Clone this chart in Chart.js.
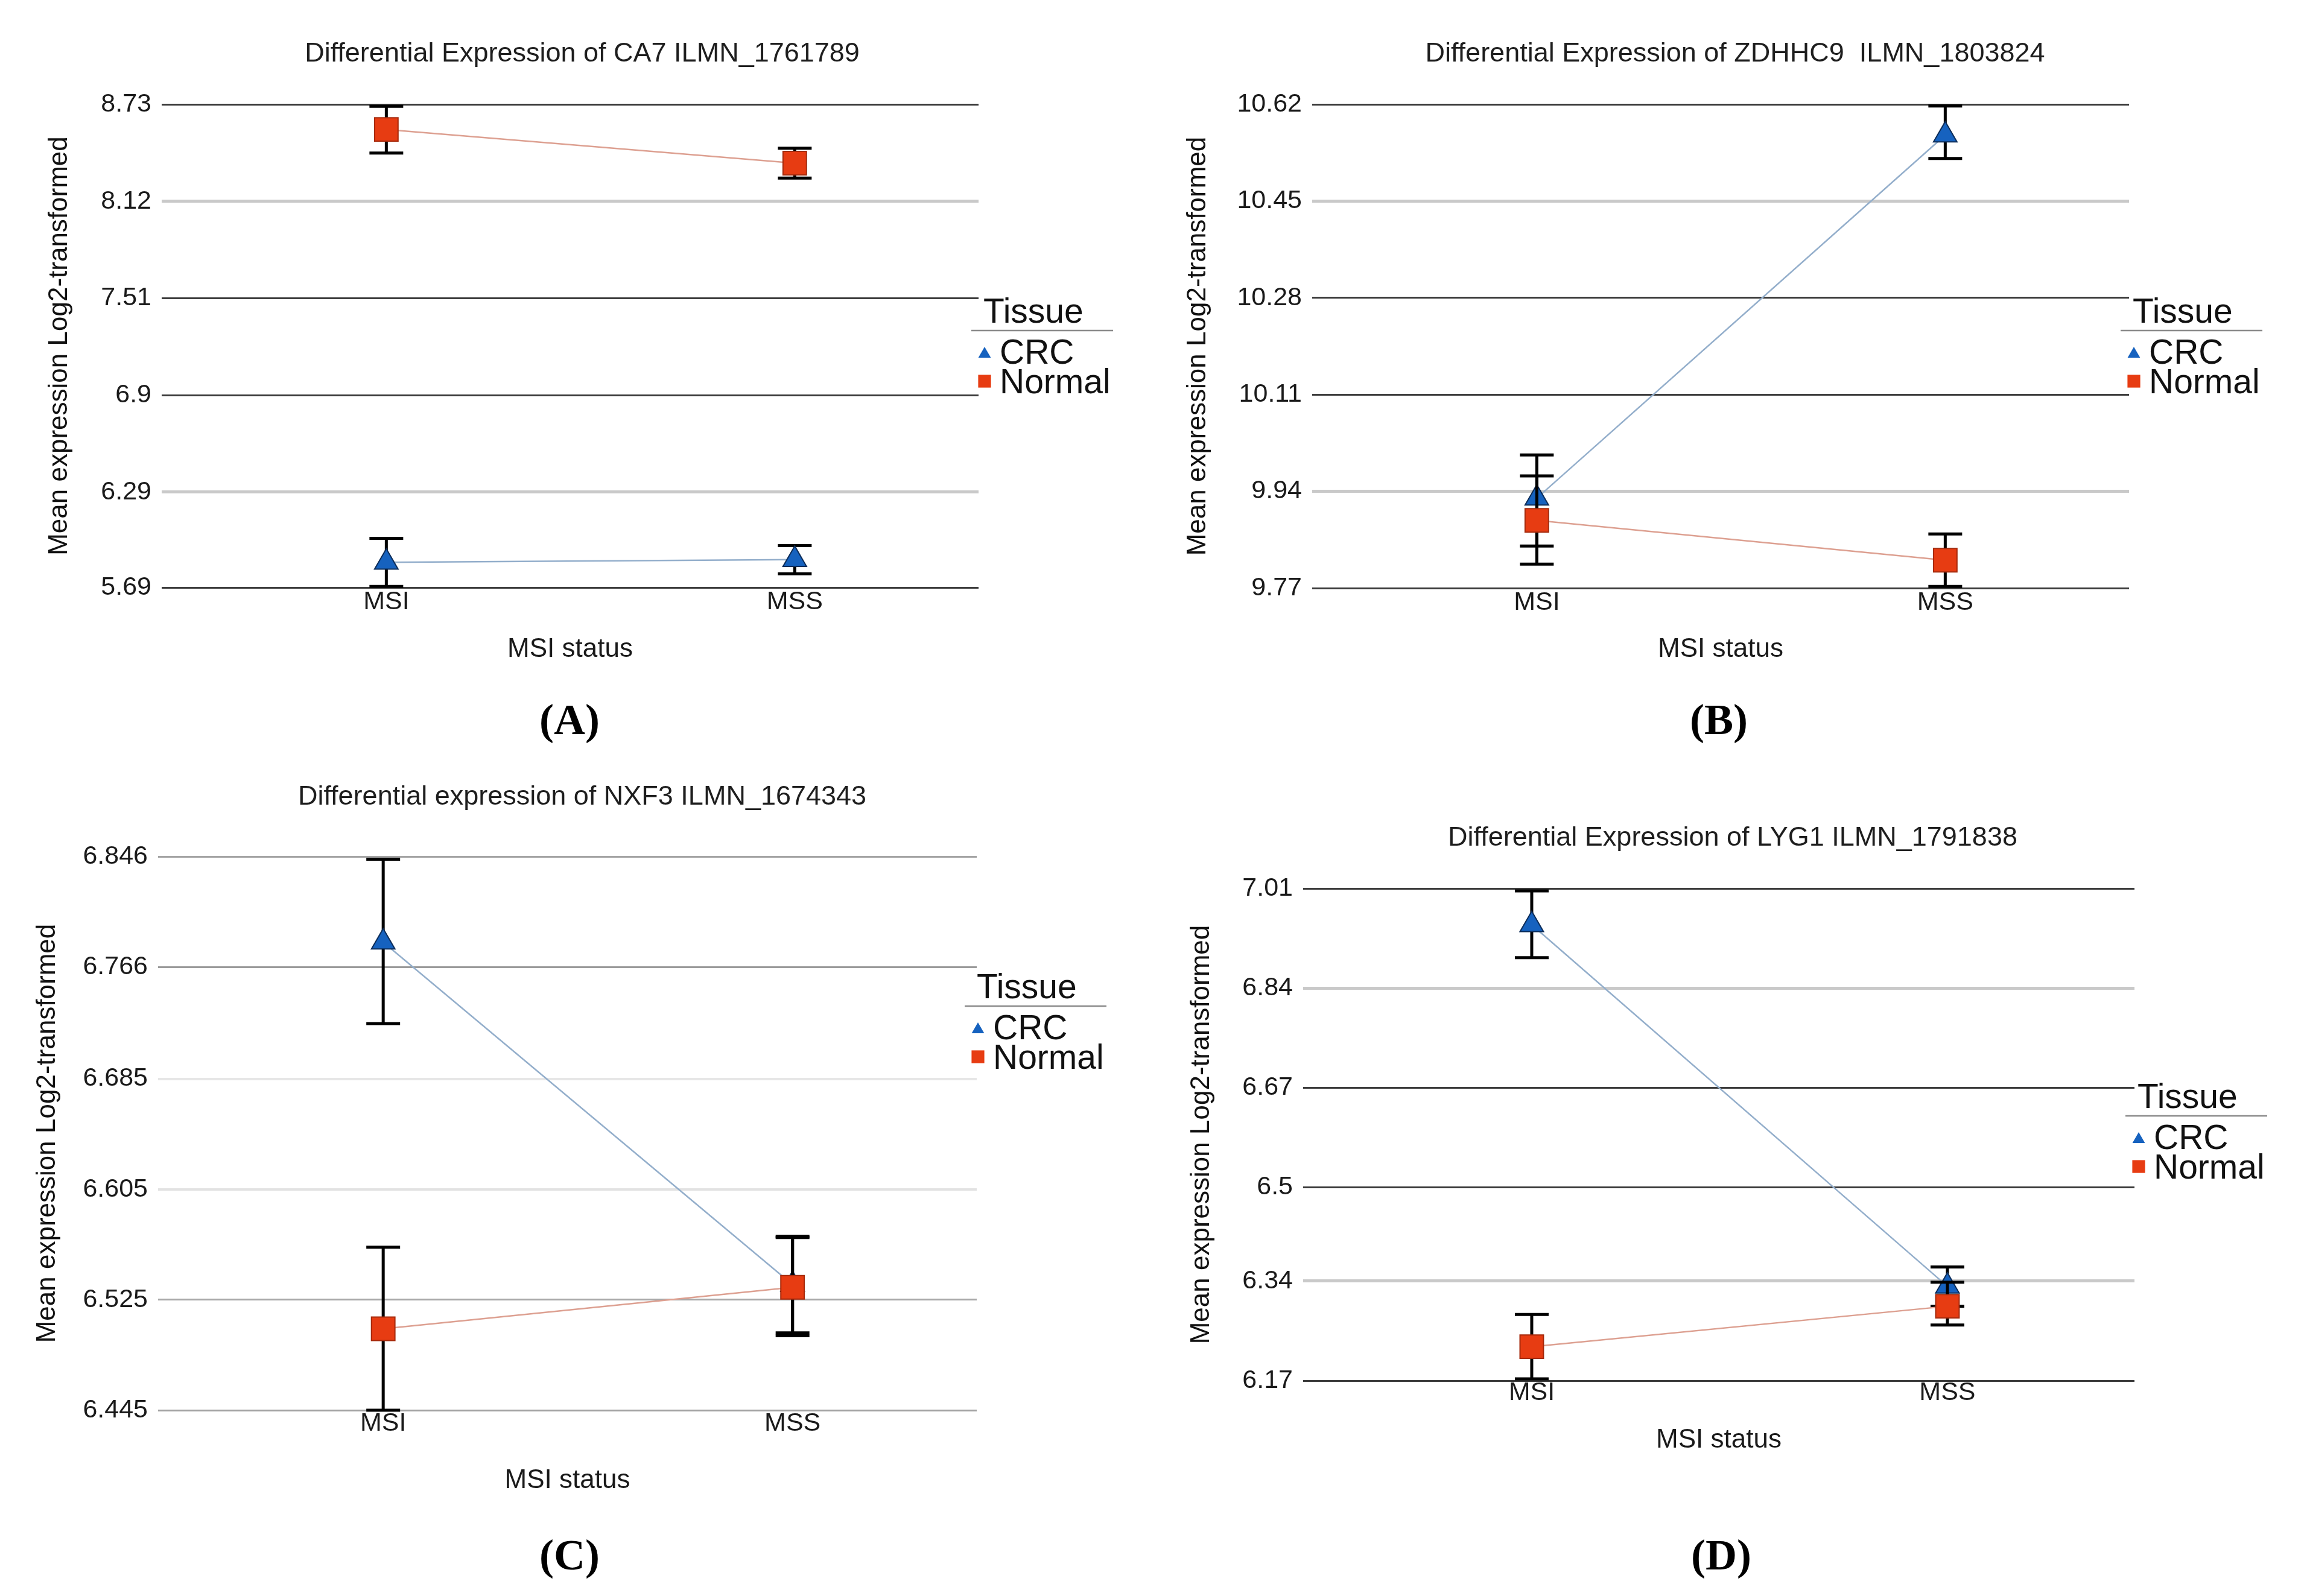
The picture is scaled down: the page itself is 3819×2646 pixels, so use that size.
<!DOCTYPE html>
<html>
<head>
<meta charset="utf-8">
<script src="https://cdn.jsdelivr.net/npm/chart.js@4.4.1/dist/chart.umd.min.js"></script>
<style>
html,body{margin:0;padding:0;background:#fff;}
body{width:3819px;height:2646px;position:relative;overflow:hidden;}
.panel{position:absolute;}
.plabel{position:absolute;width:300px;text-align:center;font-family:"Liberation Serif","Times New Roman",serif;font-weight:bold;font-size:72px;line-height:72px;color:#000;}
</style>
</head>
<body>
<div class="panel" style="left:0px;top:0px;width:1930px;height:1140px"><canvas id="cA"></canvas></div>
<div class="panel" style="left:1910px;top:0px;width:1932px;height:1140px"><canvas id="cB"></canvas></div>
<div class="panel" style="left:0px;top:1250px;width:1930px;height:1270px"><canvas id="cC"></canvas></div>
<div class="panel" style="left:1910px;top:1250px;width:1924px;height:1270px"><canvas id="cD"></canvas></div>
<div class="plabel" style="left:794px;top:1157px">(A)</div>
<div class="plabel" style="left:2699px;top:1157px">(B)</div>
<div class="plabel" style="left:794px;top:2542px">(C)</div>
<div class="plabel" style="left:2703px;top:2542px">(D)</div>
<script>
// ---------- data ----------
const categories = ['MSI', 'MSS'];
const seriesNames = ['CRC', 'Normal'];
const legendTitle = 'Tissue';
const xAxisTitle = 'MSI status';
const yAxisTitle = 'Mean expression Log2-transformed';

// Panel A
const titleA = 'Differential Expression of CA7 ILMN_1761789';
const yTicksA = [5.69, 6.29, 6.9, 7.51, 8.12, 8.73];
const yTickLabelsA = ['5.69', '6.29', '6.9', '7.51', '8.12', '8.73'];
const crcA = [5.848, 5.866];
const crcLowA = [5.697, 5.776];
const crcHighA = [5.999, 5.954];
const normalA = [8.572, 8.360];
const normalLowA = [8.424, 8.266];
const normalHighA = [8.718, 8.454];

// Panel B
const titleB = 'Differential Expression of ZDHHC9  ILMN_1803824';
const yTicksB = [9.77, 9.94, 10.11, 10.28, 10.45, 10.62];
const yTickLabelsB = ['9.77', '9.94', '10.11', '10.28', '10.45', '10.62'];
const crcB = [9.928, 10.566];
const crcLowB = [9.844, 10.525];
const crcHighB = [10.004, 10.617];
const normalB = [9.889, 9.819];
const normalLowB = [9.812, 9.773];
const normalHighB = [9.967, 9.865];

// Panel C
const titleC = 'Differential expression of NXF3 ILMN_1674343';
const yTicksC = [6.445, 6.525, 6.605, 6.685, 6.766, 6.846];
const yTickLabelsC = ['6.445', '6.525', '6.605', '6.685', '6.766', '6.846'];
const crcC = [6.784, 6.536];
const crcLowC = [6.725, 6.501];
const crcHighC = [6.844, 6.571];
const normalC = [6.504, 6.534];
const normalLowC = [6.445, 6.499];
const normalHighC = [6.563, 6.570];

// Panel D
const titleD = 'Differential Expression of LYG1 ILMN_1791838';
const yTicksD = [6.17, 6.34, 6.5, 6.67, 6.84, 7.01];
const yTickLabelsD = ['6.17', '6.34', '6.5', '6.67', '6.84', '7.01'];
const crcD = [6.948, 6.331];
const crcLowD = [6.892, 6.297];
const crcHighD = [7.006, 6.364];
const normalD = [6.228, 6.297];
const normalLowD = [6.173, 6.265];
const normalHighD = [6.283, 6.338];

// ---------- styles / layout ----------
const FONT = '"Liberation Sans", Arial, sans-serif';
const DARK = '#3c3c3c', LIGHT = '#c9c9c9';
const gridABD = {colors: [DARK, LIGHT, DARK, DARK, LIGHT, DARK], widths: [3, 5, 3, 3, 5, 3]};
const gridC = {colors: ['#a2a2a2', '#a8a8a8', '#e2e2e2', '#e6e6e6', '#9a9a9a', '#a4a4a4'], widths: [3, 3, 4, 4, 3, 3]};

const panels = [
  {id: 'cA', title: titleA, ticks: yTicksA, labels: yTickLabelsA, crc: [crcA, crcLowA, crcHighA], nor: [normalA, normalLowA, normalHighA], grid: gridABD,
   area: {L: 268, R: 1622, T: 173, B: 974}, H: 1140, W: 1930, titleXY: [965, 90], ul: [1610, 548], yTitleX: 99, xTitleY: 1077, tickPad: -10},
  {id: 'cB', title: titleB, ticks: yTicksB, labels: yTickLabelsB, crc: [crcB, crcLowB, crcHighB], nor: [normalB, normalLowB, normalHighB], grid: gridABD,
   area: {L: 265, R: 1619, T: 173, B: 975}, H: 1140, W: 1932, titleXY: [966, 90], ul: [1605, 548], yTitleX: 76, xTitleY: 1077, tickPad: -10},
  {id: 'cC', title: titleC, ticks: yTicksC, labels: yTickLabelsC, crc: [crcC, crcLowC, crcHighC], nor: [normalC, normalLowC, normalHighC], grid: gridC,
   area: {L: 262, R: 1619, T: 170, B: 1088}, H: 1270, W: 1930, titleXY: [965, 72], ul: [1599, 418], yTitleX: 79, xTitleY: 1205, tickPad: -12},
  {id: 'cD', title: titleD, ticks: yTicksD, labels: yTickLabelsD, crc: [crcD, crcLowD, crcHighD], nor: [normalD, normalLowD, normalHighD], grid: gridABD,
   area: {L: 250, R: 1628, T: 223, B: 1039}, H: 1270, W: 1924, titleXY: [962, 140], ul: [1613, 600], yTitleX: 82, xTitleY: 1138, tickPad: -14}
];

const seriesStyle = [
  {pointStyle: 'triangle', radius: 22.5, bg: '#1662bf', border: '#0c2c58', line: '#93aecb', legendR: 12, order: 1},
  {pointStyle: 'rect', radius: 27.5, bg: '#e73c12', border: '#a52a0c', line: '#dda091', legendR: 15, order: 0}
];

// ---------- plugins ----------
const errorBarPlugin = {
  id: 'errorBars',
  beforeDatasetDraw(chart, args) {
    const ds = chart.data.datasets[args.index];
    if (!ds.errLow) return;
    const y = chart.scales.y;
    const ctx = chart.ctx;
    ctx.save();
    ctx.strokeStyle = '#000';
    ctx.lineWidth = 5;
    args.meta.data.forEach((pt, i) => {
      const x = pt.x;
      const yl = y.getPixelForValue(ds.errLow[i]);
      const yh = y.getPixelForValue(ds.errHigh[i]);
      ctx.beginPath();
      ctx.moveTo(x, yl); ctx.lineTo(x, yh);
      ctx.moveTo(x - 28, yl); ctx.lineTo(x + 28, yl);
      ctx.moveTo(x - 28, yh); ctx.lineTo(x + 28, yh);
      ctx.stroke();
    });
    ctx.restore();
  }
};

const decorPlugin = {
  id: 'decor',
  afterDraw(chart, args, opts) {
    const ctx = chart.ctx;
    ctx.save();
    // title
    ctx.fillStyle = '#1e1e1e';
    ctx.font = '45px ' + FONT;
    ctx.textAlign = 'center';
    ctx.textBaseline = 'middle';
    ctx.fillText(opts.title, opts.titleXY[0], opts.titleXY[1]);
    // legend
    const [ux, uy] = opts.ul;
    ctx.textAlign = 'left';
    ctx.textBaseline = 'alphabetic';
    ctx.fillStyle = '#111';
    ctx.font = '57px ' + FONT;
    ctx.fillText(legendTitle, ux + 20, uy - 13);
    ctx.strokeStyle = '#8a8a8a';
    ctx.lineWidth = 2.5;
    ctx.beginPath(); ctx.moveTo(ux, uy); ctx.lineTo(ux + 235, uy); ctx.stroke();
    seriesNames.forEach((name, i) => {
      const st = seriesStyle[i];
      const my = uy + 39 + i * 45;
      ctx.fillStyle = st.bg;
      Chart.helpers.drawPoint(ctx, {pointStyle: st.pointStyle, rotation: 0, borderWidth: 0, radius: st.legendR}, ux + 22, my);
      ctx.fillStyle = '#111';
      ctx.fillText(name, ux + 47, uy + 55 + i * 49);
    });
    ctx.restore();
  }
};

// ---------- build charts ----------
panels.forEach(p => {
  const series = [p.crc, p.nor];
  const datasets = seriesNames.map((name, s) => ({
    label: name,
    data: series[s][0].map((v, i) => ({x: i, y: v})),
    errLow: series[s][1],
    errHigh: series[s][2],
    borderColor: seriesStyle[s].line,
    borderWidth: 2.5,
    backgroundColor: seriesStyle[s].bg,
    pointBackgroundColor: seriesStyle[s].bg,
    pointBorderColor: seriesStyle[s].border,
    pointBorderWidth: 2,
    pointStyle: seriesStyle[s].pointStyle,
    pointRadius: seriesStyle[s].radius,
    pointHoverRadius: seriesStyle[s].radius,
    order: seriesStyle[s].order,
    tension: 0,
    clip: false
  }));
  const a = p.area;
  new Chart(document.getElementById(p.id), {
    type: 'line',
    data: {datasets},
    plugins: [errorBarPlugin, decorPlugin],
    options: {
      responsive: true,
      maintainAspectRatio: false,
      animation: false,
      devicePixelRatio: 1,
      layout: {padding: {left: 0, top: a.T, right: p.W - a.R, bottom: 0}},
      plugins: {
        legend: {display: false},
        title: {display: false},
        tooltip: {enabled: false},
        decor: {title: p.title, titleXY: p.titleXY, ul: p.ul}
      },
      scales: {
        x: {
          type: 'linear',
          min: -0.55, max: 1.45,
          afterBuildTicks: sc => { sc.ticks = categories.map((c, i) => ({value: i})); },
          afterFit: sc => { sc.height = p.H - a.B; },
          grid: {display: false},
          border: {display: false},
          ticks: {
            callback: v => categories[v],
            color: '#1a1a1a',
            font: {family: FONT, size: 43},
            padding: p.tickPad,
            maxRotation: 0,
            autoSkip: false
          },
          title: {
            display: true, text: xAxisTitle, color: '#1a1a1a',
            font: {family: FONT, size: 44},
            padding: {top: 0, bottom: p.H - p.xTitleY - 26.4}
          }
        },
        y: {
          type: 'linear',
          min: p.ticks[0], max: p.ticks[p.ticks.length - 1],
          afterBuildTicks: sc => { sc.ticks = p.ticks.map(v => ({value: v})); },
          afterFit: sc => { sc.width = a.L; },
          grid: {
            drawTicks: false,
            color: c => p.grid.colors[c.index],
            lineWidth: c => p.grid.widths[c.index]
          },
          border: {display: false},
          ticks: {
            callback: (v, i) => p.labels[i],
            color: '#1a1a1a',
            font: {family: FONT, size: 43},
            padding: 17,
            autoSkip: false
          },
          title: {
            display: true, text: yAxisTitle, color: '#111',
            font: {family: FONT, size: 44},
            padding: {top: p.yTitleX - 26.4, bottom: 0}
          }
        }
      }
    }
  });
});
</script>
</body>
</html>
